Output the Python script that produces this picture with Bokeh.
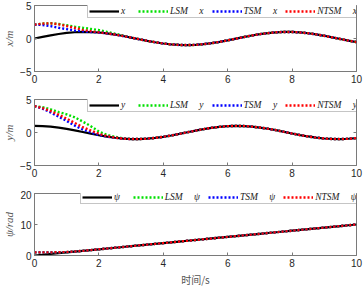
import math
from bokeh.plotting import figure
from bokeh.layouts import column
from bokeh.models import (FixedTicker, Range1d, Legend, LegendItem, Label)
from bokeh.embed import file_html
from bokeh.resources import INLINE

t = [0.0, 0.25, 0.5, 0.75, 1.0, 1.25, 1.5, 1.75, 2.0, 2.25, 2.5, 2.75, 3.0, 3.25, 3.5, 3.75,
     4.0, 4.25, 4.5, 4.75, 5.0, 5.25, 5.5, 5.75, 6.0, 6.25, 6.5, 6.75, 7.0, 7.25, 7.5, 7.75,
     8.0, 8.25, 8.5, 8.75, 9.0, 9.25, 9.5, 9.75, 10.0]

x_d = [0.00, 0.25, 0.48, 0.68, 0.84, 0.95, 1.00, 0.98, 0.91, 0.78, 0.60, 0.38, 0.14, -0.11,
       -0.35, -0.57, -0.76, -0.89, -0.98, -1.00, -0.96, -0.86, -0.71, -0.51, -0.28, -0.03,
       0.22, 0.45, 0.66, 0.82, 0.94, 0.99, 0.99, 0.92, 0.80, 0.62, 0.41, 0.17, -0.08, -0.32, -0.54]
x_lsm = [2.10, 2.25, 2.30, 2.20, 2.00, 1.80, 1.62, 1.45, 1.28, 1.00, 0.72, 0.45, 0.16, -0.11,
         -0.35, -0.57, -0.76, -0.89, -0.98, -1.00, -0.96, -0.86, -0.71, -0.51, -0.28, -0.03,
         0.22, 0.45, 0.66, 0.82, 0.94, 0.99, 0.99, 0.92, 0.80, 0.62, 0.41, 0.17, -0.08, -0.32, -0.54]
x_tsm = [2.10, 2.05, 1.88, 1.62, 1.42, 1.22, 1.08, 0.99, 0.91, 0.78, 0.60, 0.38, 0.14, -0.11,
         -0.35, -0.57, -0.76, -0.89, -0.98, -1.00, -0.96, -0.86, -0.71, -0.51, -0.28, -0.03,
         0.22, 0.45, 0.66, 0.82, 0.94, 0.99, 0.99, 0.92, 0.80, 0.62, 0.41, 0.17, -0.08, -0.32, -0.54]
x_ntsm = [2.10, 2.25, 2.30, 2.15, 1.90, 1.60, 1.30, 1.10, 0.93, 0.78, 0.60, 0.38, 0.14, -0.11,
          -0.35, -0.57, -0.76, -0.89, -0.98, -1.00, -0.96, -0.86, -0.71, -0.51, -0.28, -0.03,
          0.22, 0.45, 0.66, 0.82, 0.94, 0.99, 0.99, 0.92, 0.80, 0.62, 0.41, 0.17, -0.08, -0.32, -0.54]

y_d = [1.00, 0.97, 0.88, 0.73, 0.54, 0.32, 0.07, -0.18, -0.42, -0.63, -0.80, -0.92, -0.99, -0.99,
       -0.94, -0.82, -0.65, -0.45, -0.21, 0.04, 0.28, 0.51, 0.71, 0.86, 0.96, 1.00, 0.98, 0.89,
       0.75, 0.57, 0.35, 0.10, -0.15, -0.39, -0.60, -0.78, -0.91, -0.98, -1.00, -0.95, -0.84]
y_lsm = [4.00, 3.85, 3.50, 3.10, 2.75, 2.30, 1.65, 0.95, 0.15, -0.35, -0.65, -0.88, -0.99, -0.99,
         -0.94, -0.82, -0.65, -0.45, -0.21, 0.04, 0.28, 0.51, 0.71, 0.86, 0.96, 1.00, 0.98, 0.89,
         0.75, 0.57, 0.35, 0.10, -0.15, -0.39, -0.60, -0.78, -0.91, -0.98, -1.00, -0.95, -0.84]
y_tsm = [4.00, 3.60, 3.05, 2.40, 1.75, 1.05, 0.45, 0.00, -0.38, -0.62, -0.80, -0.92, -0.99, -0.99,
         -0.94, -0.82, -0.65, -0.45, -0.21, 0.04, 0.28, 0.51, 0.71, 0.86, 0.96, 1.00, 0.98, 0.89,
         0.75, 0.57, 0.35, 0.10, -0.15, -0.39, -0.60, -0.78, -0.91, -0.98, -1.00, -0.95, -0.84]
y_ntsm = [4.00, 3.70, 3.25, 2.70, 2.10, 1.45, 0.80, 0.30, -0.20, -0.55, -0.78, -0.92, -0.99, -0.99,
          -0.94, -0.82, -0.65, -0.45, -0.21, 0.04, 0.28, 0.51, 0.71, 0.86, 0.96, 1.00, 0.98, 0.89,
          0.75, 0.57, 0.35, 0.10, -0.15, -0.39, -0.60, -0.78, -0.91, -0.98, -1.00, -0.95, -0.84]

psi_d = [0.0, 0.25, 0.5, 0.75, 1.0, 1.25, 1.5, 1.75, 2.0, 2.25, 2.5, 2.75, 3.0, 3.25, 3.5, 3.75,
         4.0, 4.25, 4.5, 4.75, 5.0, 5.25, 5.5, 5.75, 6.0, 6.25, 6.5, 6.75, 7.0, 7.25, 7.5, 7.75,
         8.0, 8.25, 8.5, 8.75, 9.0, 9.25, 9.5, 9.75, 10.0]
psi_lsm = [1.00, 1.00, 1.00, 1.02, 1.08, 1.27, 1.5, 1.75, 2.0, 2.25, 2.5, 2.75, 3.0, 3.25, 3.5, 3.75,
           4.0, 4.25, 4.5, 4.75, 5.0, 5.25, 5.5, 5.75, 6.0, 6.25, 6.5, 6.75, 7.0, 7.25, 7.5, 7.75,
           8.0, 8.25, 8.5, 8.75, 9.0, 9.25, 9.5, 9.75, 10.0]
psi_tsm = [1.00, 1.00, 1.00, 1.03, 1.10, 1.27, 1.5, 1.75, 2.0, 2.25, 2.5, 2.75, 3.0, 3.25, 3.5, 3.75,
           4.0, 4.25, 4.5, 4.75, 5.0, 5.25, 5.5, 5.75, 6.0, 6.25, 6.5, 6.75, 7.0, 7.25, 7.5, 7.75,
           8.0, 8.25, 8.5, 8.75, 9.0, 9.25, 9.5, 9.75, 10.0]
psi_ntsm = [1.00, 1.00, 1.01, 1.05, 1.12, 1.28, 1.5, 1.75, 2.0, 2.25, 2.5, 2.75, 3.0, 3.25, 3.5, 3.75,
            4.0, 4.25, 4.5, 4.75, 5.0, 5.25, 5.5, 5.75, 6.0, 6.25, 6.5, 6.75, 7.0, 7.25, 7.5, 7.75,
            8.0, 8.25, 8.5, 8.75, 9.0, 9.25, 9.5, 9.75, 10.0]

x_ticks = [0, 2, 4, 6, 8, 10]
panels = [
    dict(sym="x", ylabel="x/m", yr=(-5, 5), yt=[-5, 0, 5], d=x_d, s=[x_lsm, x_tsm, x_ntsm]),
    dict(sym="y", ylabel="y/m", yr=(-5, 5), yt=[-5, 0, 5], d=y_d, s=[y_lsm, y_tsm, y_ntsm]),
    dict(sym="\u03c8", ylabel="\u03c8/rad", yr=(0, 20), yt=[0, 10, 20], d=psi_d, s=[psi_lsm, psi_tsm, psi_ntsm]),
]
methods = ["LSM", "TSM", "NTSM"]
colors = ["#00e000", "#0000ff", "#ff0000"]
W = 363
heights = [95, 95, 99]
tops = [5, 4, 3]
bottoms = [24, 25, 29]
LEFT, RIGHT = 32, 7
leg_x = [53, 53, 46]
leg_h = [13, 13, 16]
sym_w = [4.4, 4.4, 6.2]
sub_dy = [9, 9, 8.5]

SERIF_I = "Liberation Serif"
AX = "#7a7a7a"
figs = []
for i, pn in enumerate(panels):
    p = figure(width=W, height=heights[i], output_backend="svg", toolbar_location=None,
               x_range=Range1d(0, 10), y_range=Range1d(*pn["yr"]),
               min_border_left=LEFT, min_border_right=RIGHT, min_border_top=tops[i],
               min_border_bottom=bottoms[i])
    p.background_fill_color = "white"
    p.border_fill_color = "white"
    p.outline_line_color = AX
    p.outline_line_width = 1
    p.xgrid.visible = False
    p.ygrid.visible = False
    for ax, tk in ((p.xaxis[0], x_ticks), (p.yaxis[0], pn["yt"])):
        ax.ticker = FixedTicker(ticks=tk)
        ax.major_tick_in = 3
        ax.major_tick_out = 0
        ax.minor_tick_line_color = None
        ax.axis_line_color = AX
        ax.major_tick_line_color = AX
        ax.major_label_text_font = "Liberation Sans"
        ax.major_label_text_font_size = "10px"
        ax.major_label_text_color = "#262626"
    p.xaxis[0].major_label_standoff = 3
    p.yaxis[0].major_label_standoff = 3
    p.yaxis[0].axis_label = pn["ylabel"]
    p.yaxis[0].axis_label_text_font = SERIF_I
    p.yaxis[0].axis_label_text_font_style = "italic"
    p.yaxis[0].axis_label_text_font_size = "11px"
    p.yaxis[0].axis_label_text_color = "#555555"
    p.yaxis[0].axis_label_standoff = 2
    if i == 2:
        p.xaxis[0].axis_label = "时间/s"
        p.xaxis[0].axis_label_text_font = "Noto Sans CJK SC"
        p.xaxis[0].axis_label_text_font_style = "normal"
        p.xaxis[0].axis_label_text_font_size = "10px"
        p.xaxis[0].axis_label_text_color = "#555555"
        p.xaxis[0].axis_label_standoff = 2

    # mirrored inward ticks on the top and right edges (clipped to the frame)
    p.scatter(x=x_ticks, y=[pn["yr"][1]] * len(x_ticks), marker="dash", angle=math.pi / 2,
              size=6, line_color=AX, line_width=1)
    p.scatter(x=[10] * len(pn["yt"]), y=pn["yt"], marker="dash",
              size=6, line_color=AX, line_width=1)

    r_d = p.line(t, pn["d"], line_color="black", line_width=2.2)
    rs = []
    for k in range(3):
        rs.append(p.line(t, pn["s"][k], line_color=colors[k], line_width=2.4,
                         line_dash="2 2"))
    fh = heights[i] - tops[i] - bottoms[i]
    sp = "\u2003\u2009"
    items = [LegendItem(label=pn["sym"] + "\u2002", renderers=[r_d])]
    for k in range(3):
        items.append(LegendItem(label=methods[k] + sp + pn["sym"], renderers=[rs[k]]))
    lg = Legend(items=items, orientation="horizontal", location=(leg_x[i], fh - leg_h[i]),
                glyph_width=30, glyph_height=8, label_height=8, label_width=4,
                label_standoff=2, spacing=8, padding=1, margin=0,
                label_text_font=SERIF_I, label_text_font_style="italic",
                label_text_font_size="9.5px", label_text_color="#222222",
                border_line_color="#8c8c8c", border_line_width=1,
                background_fill_color="white", background_fill_alpha=1)
    p.add_layout(lg, "center")

    # subscript "d" of the desired-signal legend entry, placed just after its label
    fw = W - LEFT - RIGHT
    sub_x = (leg_x[i] + 1 + 30 + 2 + 3 + sym_w[i] + 0.5) / fw * 10
    sub_y = pn["yr"][1] - sub_dy[i] / fh * (pn["yr"][1] - pn["yr"][0])
    p.add_layout(Label(x=sub_x, y=sub_y, text="d", level="overlay",
                       text_font=SERIF_I, text_font_style="italic", text_font_size="7px",
                       text_color="#111111", text_baseline="middle", text_align="left"))
    figs.append(p)

layout = column(*figs, spacing=0)
open("out.html", "w").write(file_html(layout, INLINE))
